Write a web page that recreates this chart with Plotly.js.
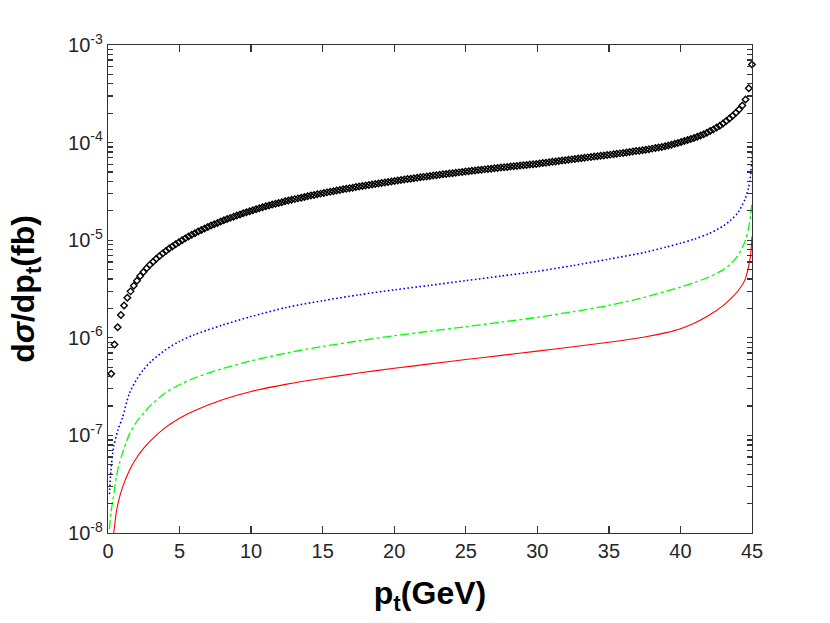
<!DOCTYPE html>
<html>
<head>
<meta charset="utf-8">
<script src="https://cdn.plot.ly/plotly-3.0.1.min.js"></script>
<style>
  body { margin: 0; background: #fff; }
  #chart { width: 830px; height: 623px; }
</style>
</head>
<body>
<div id="chart"></div>
<script>
// black diamonds: 200 points, first at pt = 0.225, step 0.225 (units 1e-6 fb/GeV)
var ptStart = 0.225;
var ptStep = 0.225;
var sigBlack = [
  0.428, 0.855, 1.28, 1.71, 2.14, 2.57, 2.99, 3.42, 3.85, 4.29,
  4.72, 5.16, 5.59, 6.02, 6.46, 6.89, 7.33, 7.76, 8.20, 8.64,
  9.09, 9.54, 9.99, 10.44, 10.89, 11.35, 11.81, 12.26, 12.72, 13.19,
  13.65, 14.11, 14.58, 15.04, 15.51, 15.98, 16.45, 16.93, 17.40, 17.88,
  18.36, 18.84, 19.32, 19.80, 20.28, 20.77, 21.26, 21.74, 22.24, 22.73,
  23.18, 23.63, 24.09, 24.54, 25.00, 25.45, 25.91, 26.36, 26.82, 27.27,
  27.72, 28.18, 28.63, 29.09, 29.54, 30.00, 30.45, 30.91, 31.36, 31.82,
  32.27, 32.72, 33.18, 33.63, 34.09, 34.54, 35.00, 35.45, 35.91, 36.36,
  36.81, 37.27, 37.72, 38.18, 38.63, 39.09, 39.54, 40.00, 40.45, 40.91,
  41.36, 41.81, 42.27, 42.72, 43.18, 43.63, 44.09, 44.54, 45.00, 45.45,
  45.90, 46.36, 46.81, 47.27, 47.72, 48.18, 48.63, 49.09, 49.54, 50.00,
  50.45, 50.90, 51.36, 51.81, 52.27, 52.72, 53.18, 53.63, 54.09, 54.54,
  54.99, 55.45, 55.90, 56.36, 56.81, 57.27, 57.72, 58.18, 58.63, 59.09,
  59.54, 59.99, 60.45, 61.05, 61.69, 62.30, 62.92, 63.55, 64.18, 64.80,
  65.42, 66.07, 66.70, 67.33, 67.99, 68.62, 69.26, 69.93, 70.57, 71.21,
  71.86, 72.54, 73.19, 73.84, 74.53, 75.29, 76.02, 76.79, 77.56, 78.37,
  79.19, 80.04, 80.90, 81.81, 82.71, 83.66, 84.66, 85.69, 86.77, 87.90,
  89.07, 90.36, 91.86, 93.57, 95.29, 97.22, 99.16, 101.3, 103.7, 106.1,
  108.7, 111.4, 114.5, 118.0, 122.0, 126.4, 131.3, 136.6, 142.5, 149.2,
  156.9, 166.3, 176.7, 188.6, 201.8, 218.3, 239.4, 277.1, 360.0, 630.0
];

// blue dotted
var ptBlue = [0.1, 0.2, 0.4, 0.7, 1.0, 1.5, 2.0, 2.5, 3, 4, 5, 6, 8, 10, 12.5, 15, 17.5, 20,
  22.5, 25, 27.5, 30, 32.5, 35, 37.5, 39, 40, 41, 42, 43, 43.5, 44, 44.5, 44.75, 44.9, 45];
var sigBlue = [0.025, 0.043, 0.077, 0.114, 0.15, 0.27, 0.375, 0.475, 0.57, 0.75, 0.92, 1.07,
  1.35, 1.65, 2.05, 2.4, 2.75, 3.1, 3.45, 3.85, 4.3, 4.8, 5.5, 6.4, 7.5, 8.5, 9.3, 10.3, 11.7,
  14.0, 16.0, 19.0, 26, 34, 46, 78];

// green dash-dot
var ptGreen = [0.1, 0.2, 0.35, 0.6, 0.8, 1.0, 1.5, 2.0, 2.5, 3, 4, 5, 6, 8, 10, 12.5, 15, 17.5,
  20, 22.5, 25, 27.5, 30, 32.5, 35, 37.5, 39, 40, 41, 42, 43, 43.5, 44, 44.5, 44.75, 44.9, 45];
var sigGreen = [0.011, 0.016, 0.022, 0.039, 0.052, 0.065, 0.103, 0.138, 0.17, 0.205, 0.272,
  0.33, 0.385, 0.483, 0.58, 0.70, 0.815, 0.93, 1.05, 1.17, 1.3, 1.45, 1.62, 1.85, 2.15, 2.6,
  3.0, 3.3, 3.7, 4.2, 5.0, 5.7, 6.9, 9.6, 13.2, 18, 25];

// red solid
var ptRed = [0.4, 0.6, 0.8, 1.0, 1.5, 2.0, 2.5, 3, 4, 5, 6, 8, 10, 12.5, 15, 17.5, 20, 22.5,
  25, 27.5, 30, 32.5, 35, 37.5, 39, 40, 41, 42, 43, 43.5, 44, 44.5, 44.75, 44.9, 45];
var sigRed = [0.010, 0.017, 0.023, 0.029, 0.044, 0.059, 0.074, 0.089, 0.120, 0.150, 0.178,
  0.232, 0.282, 0.335, 0.385, 0.435, 0.487, 0.54, 0.60, 0.66, 0.73, 0.81, 0.90, 1.02, 1.13,
  1.24, 1.42, 1.70, 2.15, 2.5, 3.0, 3.9, 5.3, 7.0, 11];

var xTicks = [0, 5, 10, 15, 20, 25, 30, 35, 40, 45];
var yTicks = [1e-8, 1e-7, 1e-6, 1e-5, 1e-4, 1e-3];
var yTickText = ['10<sup>-8</sup>', '10<sup>-7</sup>', '10<sup>-6</sup>', '10<sup>-5</sup>',
  '10<sup>-4</sup>', '10<sup>-3</sup>'];

// decade ticks get a label, the 2..9 ticks between them stay blank
var yVals = [], yText = [];
for (var d = 0; d < yTicks.length; d++) {
  yVals.push(yTicks[d]);
  yText.push(yTickText[d]);
  if (d === yTicks.length - 1) break;
  for (var m = 2; m <= 9; m++) {
    yVals.push(yTicks[d] * m);
    yText.push('');
  }
}

function scale(arr) {
  return arr.map(function (v) { return v * 1e-6; });
}

var traces = [
  {
    x: ptRed, y: scale(sigRed), mode: 'lines', type: 'scatter',
    line: { color: '#ff0000', width: 1.1, shape: 'spline', smoothing: 0.8 }
  },
  {
    x: ptGreen, y: scale(sigGreen), mode: 'lines', type: 'scatter',
    line: { color: '#00ff00', width: 1.3, dash: 'dashdot', shape: 'spline', smoothing: 0.8 }
  },
  {
    x: ptBlue, y: scale(sigBlue), mode: 'lines', type: 'scatter',
    line: { color: '#0000ff', width: 1.6, dash: '1.6px,2.4px', shape: 'spline', smoothing: 0.8 }
  },
  {
    x0: ptStart, dx: ptStep, y: scale(sigBlack), mode: 'markers', type: 'scatter',
    cliponaxis: false,
    marker: { symbol: 'diamond-open', size: 5, color: '#000000', line: { width: 1.4, color: '#000000' } }
  }
];

var axisColor = '#333333';
var layout = {
  width: 830, height: 623,
  margin: { l: 108, r: 78, t: 45, b: 90 },
  paper_bgcolor: '#ffffff', plot_bgcolor: '#ffffff',
  showlegend: false,
  font: { family: 'Liberation Sans, Arial, sans-serif', color: '#262626' },
  xaxis: {
    range: [0, 45], tickvals: xTicks, ticks: 'inside', ticklen: 7, tickwidth: 1.3, tickcolor: axisColor,
    showline: true, linecolor: axisColor, linewidth: 1.2, mirror: 'ticks',
    showgrid: false, zeroline: false,
    tickfont: { size: 20, color: '#262626' },
    title: { text: '<b>p<sub>t</sub>(GeV)</b>', font: { size: 32, color: '#000000' }, standoff: 20 }
  },
  yaxis: {
    type: 'log', range: [-8, -3], tickmode: 'array', tickvals: yVals, ticktext: yText,
    ticks: 'inside', ticklen: 5, tickwidth: 1.3, tickcolor: axisColor,
    showline: true, linecolor: axisColor, linewidth: 1.2, mirror: 'ticks',
    showgrid: false, zeroline: false,
    tickfont: { size: 20, color: '#262626' },
    title: { text: '<b>d<i>σ</i>/dp<sub>t</sub>(fb)</b>', font: { size: 32, color: '#000000' }, standoff: 23 }
  }
};

Plotly.newPlot('chart', traces, layout, { staticPlot: true, displayModeBar: false });
</script>
</body>
</html>
